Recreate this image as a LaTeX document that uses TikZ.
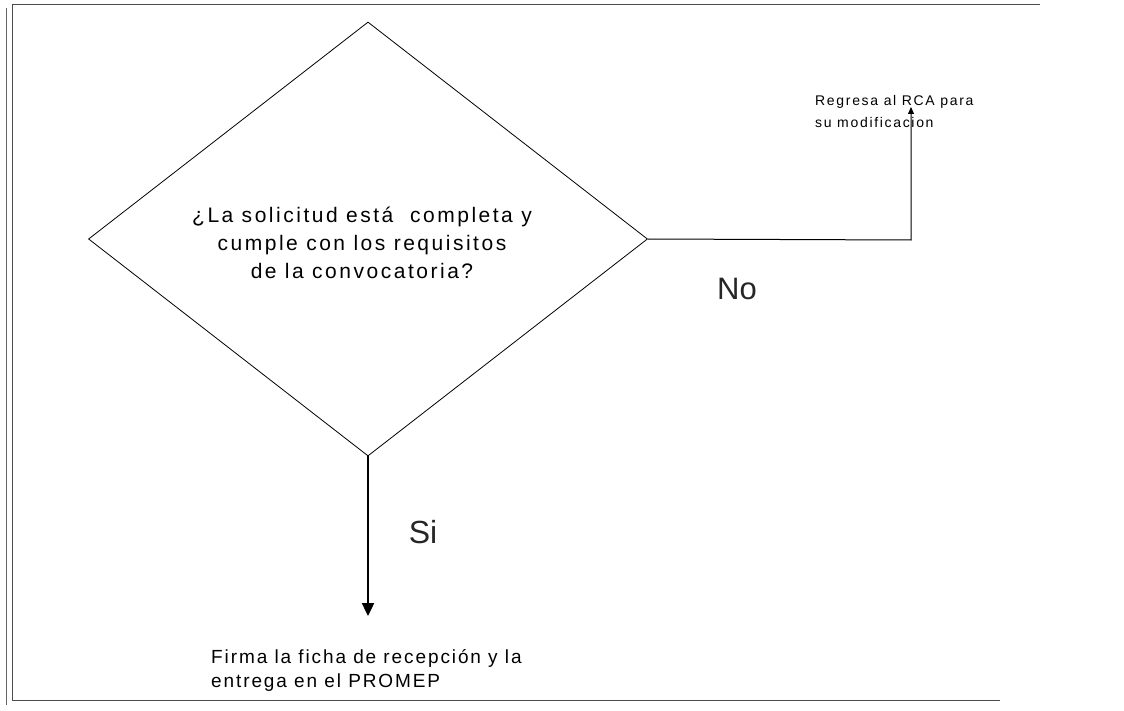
\documentclass[tikz,border=0pt]{standalone}
\usepackage{fontspec}
\setmainfont{Liberation Sans}
\newfontfamily\qfont[LetterSpace=12]{Liberation Sans}
\newfontfamily\rfont[LetterSpace=12]{Liberation Sans}
\newfontfamily\ffont[LetterSpace=10]{Liberation Sans}
\usetikzlibrary{shapes.geometric,arrows.meta}
\begin{document}
\begin{tikzpicture}[x=1pt,y=-1pt,
  frameline/.style={draw=black!70,line width=1pt},
  decision/.style={diamond,draw,line width=0.8pt,minimum width=559pt,minimum height=434pt,inner sep=0pt},
  lbl/.style={inner sep=0pt,text=black!85}]
\useasboundingbox (0,0) rectangle (1124,711);
\fill[white] (0,0) rectangle (1124,711);
% frame
\draw[frameline] (1040,5) -- (12,5) -- (12,700) -- (1000,700);
\draw[black!60,line width=0.6pt] (6,8) -- (6,705);
% decision
\node[decision] (d) at (368,239) {};
\node[inner sep=0pt,align=center,font=\qfont\fontsize{21}{28}\selectfont] (q) at (362,243)
  {¿La solicitud está\ \ completa y\\cumple con los requisitos\\de la convocatoria?};
% No branch
\coordinate (c) at (911,240);
\node[inner sep=0pt,anchor=base west,align=left,font=\rfont\fontsize{14}{22}\selectfont] (r) at (815,128) {Regresa al RCA para\\su modificacion};
\draw[line width=1pt,-{Triangle[length=7pt,width=6pt]}] (d.east) -- (c) -- (911,107);
\node[lbl,font=\fontsize{31}{34}\selectfont] (no) at (737,289) {No};
% Si branch
\node[inner sep=0pt,anchor=base west,align=left,font=\ffont\fontsize{19}{24}\selectfont] (f) at (211,687)
  {Firma la ficha de recepción y la\\entrega en el PROMEP};
\draw[line width=2.4pt,-{Triangle[length=13pt,width=12pt]}] (d.south) -- (368,616);
\node[lbl,font=\fontsize{32}{34}\selectfont] (si) at (423,532) {Si};
\end{tikzpicture}
\end{document}
